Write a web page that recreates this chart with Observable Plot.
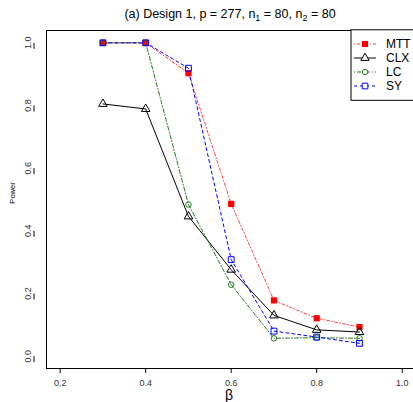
<!DOCTYPE html>
<html>
<head>
<meta charset="utf-8">
<script src="https://cdn.jsdelivr.net/npm/d3@7"></script>
<script src="https://cdn.jsdelivr.net/npm/@observablehq/plot@0.6"></script>
<style>
  body { margin: 0; background: #fff; }
  svg { font-family: "Liberation Sans", Arial, sans-serif; }
</style>
</head>
<body>
<div id="chart"></div>
<script>
const beta = [0.3, 0.4, 0.5, 0.6, 0.7, 0.8, 0.9];
const MTT = [1.0, 1.0, 0.903, 0.486, 0.178, 0.121, 0.093];
const CLX = [0.805, 0.789, 0.446, 0.276, 0.130, 0.084, 0.077];
const LC  = [1.0, 1.0, 0.484, 0.228, 0.057, 0.059, 0.057];
const SY  = [1.0, 1.0, 0.919, 0.308, 0.080, 0.061, 0.041];
const xTicks = [0.2, 0.4, 0.6, 0.8, 1.0];
const yTicks = [0.0, 0.2, 0.4, 0.6, 0.8, 1.0];

const series = [
  {name: "MTT", values: MTT, color: "#ff0000", dash: "1,2,3,2", symbol: "square", fill: "#ff0000", r: 3.5},
  {name: "CLX", values: CLX, color: "#000000", dash: null, symbol: "triangle", fill: "none", r: 3.2},
  {name: "LC",  values: LC,  color: "#1f7a1f", dash: "1,2,4,2", symbol: "circle", fill: "none", r: 2.8},
  {name: "SY",  values: SY,  color: "#0000ff", dash: "3,3", symbol: "square", fill: "none", r: 3.3}
];
const rows = series.flatMap(s => beta.map((b, i) => ({series: s.name, beta: b, power: s.values[i]})));

const marks = [];
for (const s of series) {
  const d = rows.filter(r => r.series === s.name);
  marks.push(Plot.line(d, {x: "beta", y: "power", stroke: s.color, strokeWidth: 1, strokeDasharray: s.dash || undefined, strokeOpacity: s.name === "MTT" ? 0.75 : 1}));
}
for (const s of series) {
  const d = rows.filter(r => r.series === s.name);
  marks.push(Plot.dot(d, {x: "beta", y: "power", symbol: () => s.symbol, r: s.r, stroke: s.fill === "none" ? s.color : "none", fill: s.fill === "none" ? "white" : s.fill, fillOpacity: s.fill === "none" ? 0 : 1, strokeWidth: 1}));
}

const W = 413, H = 402;
const chart = Plot.plot({
  width: W, height: H,
  marginLeft: 46, marginTop: 30, marginBottom: 34, marginRight: 0,
  style: {fontFamily: "Liberation Sans, Arial, sans-serif", background: "white"},
  x: {domain: [0.168, 1.032], range: [46, 415.4], ticks: xTicks, tickFormat: d3.format(".1f"), label: null},
  y: {domain: [-0.04, 1.04], range: [368.2, 29.8], ticks: yTicks, tickFormat: d3.format(".1f"), label: null},
  marks: [
    Plot.frame({stroke: "black", strokeWidth: 1}),
    Plot.axisX(xTicks, {tickSize: 5, tickPadding: 6, fontSize: 9, fill: "#333", label: null}),
    Plot.axisY(yTicks, {tickSize: 6, tickPadding: 0, fontSize: 9, fill: "#333", label: null, textAnchor: "middle", rotate: -90, dx: -12}),
    ...marks
  ]
});
document.getElementById("chart").appendChild(chart);

const svg = d3.select(chart);
// Title
const t = svg.append("text").attr("x", 230).attr("y", 18).attr("text-anchor", "middle")
  .attr("font-size", 12.5).attr("fill", "black");
t.append("tspan").text("(a) Design 1, p = 277, n");
t.append("tspan").text("1").attr("font-size", 9).attr("dy", 3);
t.append("tspan").text(" = 80, n").attr("dy", -3);
t.append("tspan").text("2").attr("font-size", 9).attr("dy", 3);
t.append("tspan").text(" = 80").attr("dy", -3);
// Axis titles
svg.append("text").attr("transform", "translate(15,193) rotate(-90)").attr("text-anchor", "middle")
  .attr("font-size", 7.5).attr("fill", "black").text("Power");
svg.append("text").attr("x", 229).attr("y", 400).attr("text-anchor", "middle")
  .attr("font-size", 14).attr("fill", "black").text("β");

// Legend
const lg = svg.append("g");
lg.append("rect").attr("x", 351).attr("y", 29.8).attr("width", 70).attr("height", 70.5)
  .attr("fill", "white").attr("stroke", "black").attr("stroke-width", 1);
series.forEach((s, i) => {
  const y = 44 + i * 14;
  lg.append("line").attr("x1", 354).attr("x2", 376).attr("y1", y).attr("y2", y)
    .attr("stroke", s.color).attr("stroke-width", 1).attr("stroke-dasharray", s.dash || null)
    .attr("stroke-opacity", s.name === "MTT" ? 0.75 : 1);
  const sz = s.symbol === "square" ? (s.fill === "none" ? 32 : 38) : (s.symbol === "triangle" ? 30 : 24);
  lg.append("path").attr("d", d3.symbol(s.symbol === "square" ? d3.symbolSquare : s.symbol === "triangle" ? d3.symbolTriangle : d3.symbolCircle, sz)())
    .attr("transform", `translate(365,${y})`)
    .attr("fill", s.fill === "none" ? "white" : s.fill).attr("stroke", s.fill === "none" ? s.color : "none");
  lg.append("text").attr("x", 386).attr("y", y + 4.3).attr("text-anchor", "start")
    .attr("font-size", 12).attr("fill", "black").text(s.name);
});
</script>
</body>
</html>
